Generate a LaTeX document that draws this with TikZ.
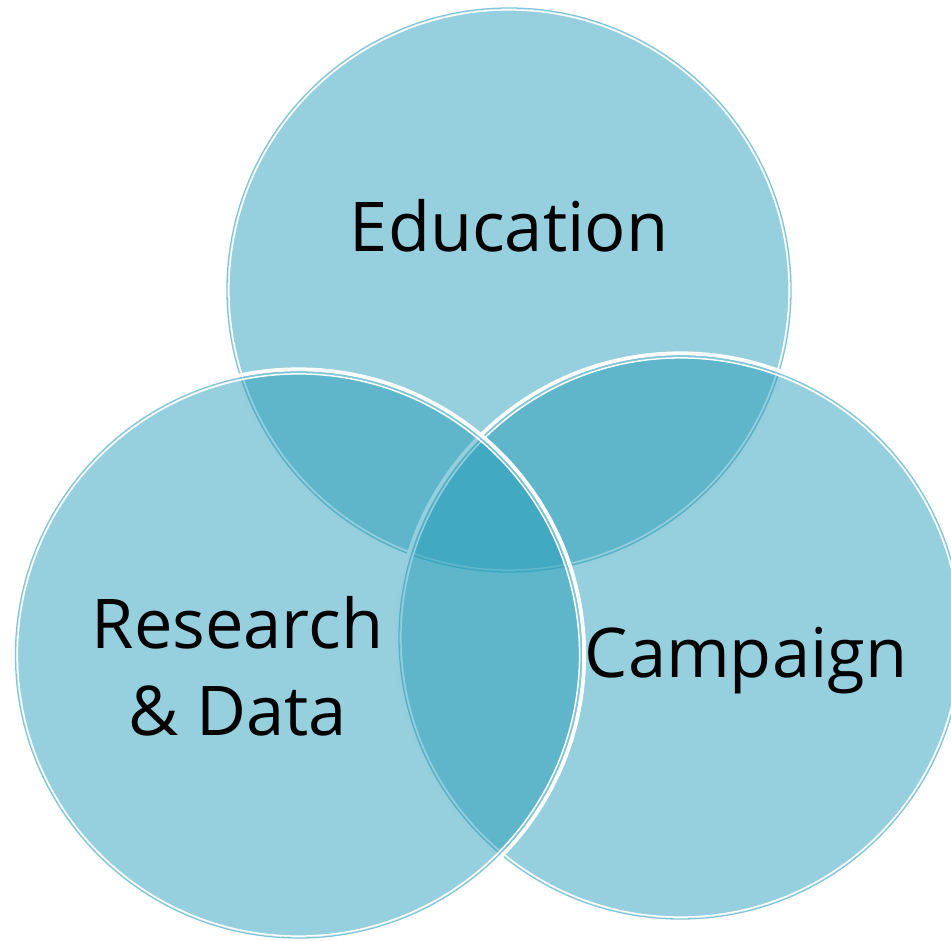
\documentclass[tikz,border=0pt]{standalone}
\usepackage{fontspec}
\setmainfont{Open Sans}
\definecolor{venncore}{RGB}{35,155,184}
\definecolor{vennedge}{RGB}{128,196,213}
\begin{document}
\begin{tikzpicture}[x=1pt,y=-1pt,
  venntext/.style={inner sep=0pt,text=black,font=\fontsize{68.6}{87}\selectfont},
  vennfill/.style={fill=venncore,fill opacity=0.48},
  halo/.style={draw=white,line width=4pt},
  rim/.style={draw=vennedge,line width=1.3pt},
  innerrim/.style={draw=white,line width=1.5pt}]
  \useasboundingbox (0,0) rectangle (951,941);

  % each set: translucent disc, white halo, teal rim, white inner ring
  \foreach \name/\cx/\cy/\r in {edu/509/290/282, camp/680.5/637.5/281.5, res/298.5/655/283}{
    \coordinate (\name) at (\cx,\cy);
    \fill[vennfill] (\name) circle[radius=\r-1];
    \draw[halo] (\name) circle[radius=\r+2.6];
    \draw[rim] (\name) circle[radius=\r];
    \draw[innerrim] (\name) circle[radius=\r-1.9];
  }

  \node[venntext,anchor=base] (edulabel) at (509,252) {Education};
  \node[venntext,anchor=base] (camplabel) at (746,677) {Campaign};
  \node[venntext,anchor=center,align=center] (reslabel) at (237.5,666) {Research\\\& Data};
\end{tikzpicture}
\end{document}
